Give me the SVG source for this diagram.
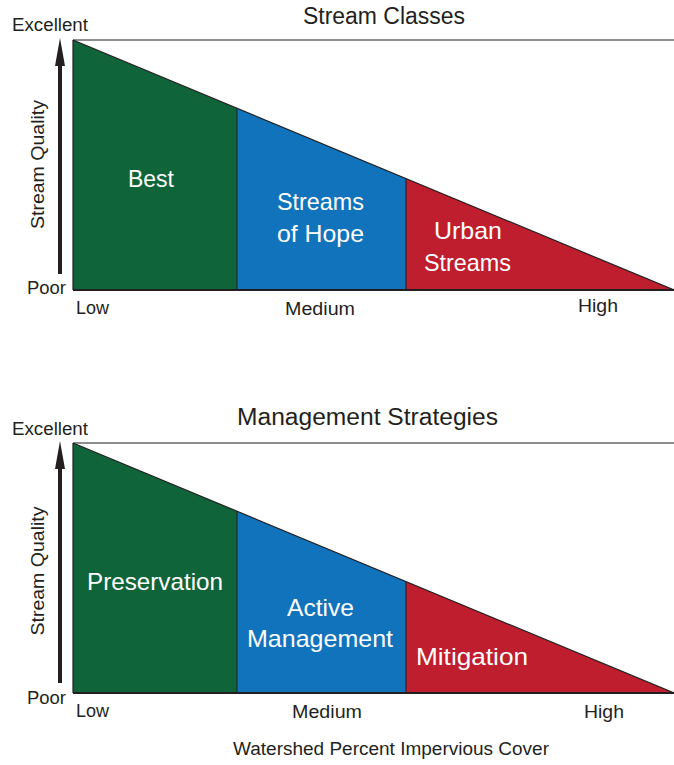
<svg xmlns="http://www.w3.org/2000/svg" width="674" height="765" viewBox="0 0 674 765">
<style>
text{font-family:"Liberation Sans",Arial,sans-serif}
.lbl{fill:#231f20;font-size:18px}
.ttl{fill:#231f20;font-size:23px;text-anchor:middle}
.wt{fill:#ffffff;font-size:24px;text-anchor:middle}
.edge{stroke:#231f20;stroke-width:1.2;fill:none}
.div{stroke:#231f20;stroke-width:1}
.g{fill:#10643a}.b{fill:#1173bb}.r{fill:#be1e2d}
.ar{fill:#231f20}
</style>
<g id="chart1">
<g id="best"><path class="g" d="M73 40 L237 108.2 L237 290 L73 290 Z"/></g>
<g id="hope"><path class="b" d="M237 108.2 L406 178.5 L406 290 L237 290 Z"/></g>
<g id="urban"><path class="r" d="M406 178.5 L674 290 L406 290 Z"/></g>
<g id="edges1">
<line class="edge" x1="73" y1="40" x2="674" y2="40"/>
<line class="edge" x1="73" y1="40" x2="674" y2="290"/>
<line class="edge" x1="73" y1="40" x2="73" y2="290"/>
<line class="edge" x1="73" y1="290" x2="674" y2="290" style="stroke-width:2"/>
<line class="div" x1="237" y1="108.2" x2="237" y2="290"/>
<line class="div" x1="406" y1="178.5" x2="406" y2="290"/>
</g>
<text class="ttl" x="384" y="24" textLength="162" lengthAdjust="spacingAndGlyphs">Stream Classes</text>
<text class="wt" x="151" y="187" textLength="46" lengthAdjust="spacingAndGlyphs">Best</text>
<text class="wt" x="320.5" y="210" textLength="87" lengthAdjust="spacingAndGlyphs">Streams</text>
<text class="wt" x="320.5" y="242" textLength="87" lengthAdjust="spacingAndGlyphs">of Hope</text>
<text class="wt" x="468" y="239" textLength="68" lengthAdjust="spacingAndGlyphs">Urban</text>
<text class="wt" x="467.5" y="271" textLength="87" lengthAdjust="spacingAndGlyphs">Streams</text>
<text class="lbl" x="12" y="31" textLength="76" lengthAdjust="spacingAndGlyphs">Excellent</text>
<text class="lbl" x="27" y="294" textLength="39" lengthAdjust="spacingAndGlyphs">Poor</text>
<text class="lbl" x="76" y="314" textLength="33" lengthAdjust="spacingAndGlyphs">Low</text>
<text class="lbl" x="320" y="315" text-anchor="middle" textLength="70" lengthAdjust="spacingAndGlyphs">Medium</text>
<text class="lbl" x="598" y="312" text-anchor="middle" textLength="40" lengthAdjust="spacingAndGlyphs">High</text>
<text class="lbl" transform="translate(44,164.5) rotate(-90)" text-anchor="middle" textLength="129" lengthAdjust="spacingAndGlyphs">Stream Quality</text>
<g id="arrow1"><line x1="60" y1="274" x2="60" y2="64" stroke="#231f20" stroke-width="4"/><path class="ar" d="M60 38 L65 66 L55 66 Z"/></g>
</g>
<g id="chart2">
<g id="preservation"><path class="g" d="M73 443 L237 511.2 L237 693 L73 693 Z"/></g>
<g id="active"><path class="b" d="M237 511.2 L406 581.5 L406 693 L237 693 Z"/></g>
<g id="mitigation"><path class="r" d="M406 581.5 L674 693 L406 693 Z"/></g>
<g id="edges2">
<line class="edge" x1="73" y1="443" x2="674" y2="443"/>
<line class="edge" x1="73" y1="443" x2="674" y2="693"/>
<line class="edge" x1="73" y1="443" x2="73" y2="693"/>
<line class="edge" x1="73" y1="693" x2="674" y2="693" style="stroke-width:2"/>
<line class="div" x1="237" y1="511.2" x2="237" y2="693"/>
<line class="div" x1="406" y1="581.5" x2="406" y2="693"/>
</g>
<text class="ttl" x="367.5" y="425" textLength="261" lengthAdjust="spacingAndGlyphs">Management Strategies</text>
<text class="wt" x="155" y="590" textLength="136" lengthAdjust="spacingAndGlyphs">Preservation</text>
<text class="wt" x="320.5" y="616" textLength="67" lengthAdjust="spacingAndGlyphs">Active</text>
<text class="wt" x="320" y="647" textLength="146" lengthAdjust="spacingAndGlyphs">Management</text>
<text class="wt" x="472" y="665" textLength="112" lengthAdjust="spacingAndGlyphs">Mitigation</text>
<text class="lbl" x="12" y="435" textLength="76" lengthAdjust="spacingAndGlyphs">Excellent</text>
<text class="lbl" x="27" y="704" textLength="39" lengthAdjust="spacingAndGlyphs">Poor</text>
<text class="lbl" x="76" y="717" textLength="33" lengthAdjust="spacingAndGlyphs">Low</text>
<text class="lbl" x="327" y="718" text-anchor="middle" textLength="70" lengthAdjust="spacingAndGlyphs">Medium</text>
<text class="lbl" x="604" y="718" text-anchor="middle" textLength="40" lengthAdjust="spacingAndGlyphs">High</text>
<text class="lbl" transform="translate(44,571) rotate(-90)" text-anchor="middle" textLength="129" lengthAdjust="spacingAndGlyphs">Stream Quality</text>
<g id="arrow2"><line x1="60" y1="683" x2="60" y2="467" stroke="#231f20" stroke-width="4"/><path class="ar" d="M60 441 L65 469 L55 469 Z"/></g>
<text class="lbl" x="391" y="755" text-anchor="middle" textLength="316" lengthAdjust="spacingAndGlyphs">Watershed Percent Impervious Cover</text>
</g>
</svg>
